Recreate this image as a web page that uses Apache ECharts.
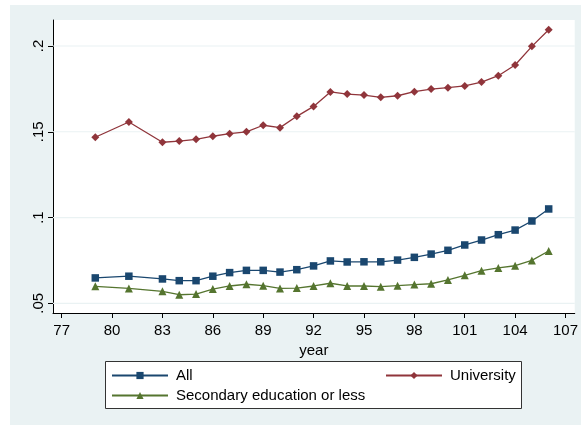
<!DOCTYPE html>
<html>
<head>
<meta charset="utf-8">
<script src="https://cdn.jsdelivr.net/npm/echarts@6/dist/echarts.min.js"></script>
<style>
  html, body { margin: 0; padding: 0; background: #ffffff; }
  #chart { width: 581px; height: 425px; }
</style>
</head>
<body>
<div id="chart"></div>
<script>
// Survey years (ROC calendar) and the three rates per year
const years = [79, 81, 83, 84, 85, 86, 87, 88, 89, 90, 91, 92, 93, 94, 95, 96, 97, 98, 99, 100, 101, 102, 103, 104, 105, 106];
const allRate = [0.0648, 0.0658, 0.0642, 0.0632, 0.0632, 0.0658, 0.0679, 0.0692, 0.0692, 0.0682, 0.0696, 0.0718, 0.0747, 0.0741, 0.0742, 0.0742, 0.0752, 0.0768, 0.0787, 0.0809, 0.0840, 0.0869, 0.0900, 0.0927, 0.0980, 0.1050];
const universityRate = [0.1468, 0.1557, 0.1439, 0.1446, 0.1456, 0.1474, 0.1489, 0.1500, 0.1538, 0.1524, 0.1590, 0.1648, 0.1732, 0.1720, 0.1714, 0.1701, 0.1710, 0.1734, 0.1749, 0.1757, 0.1767, 0.1790, 0.1827, 0.1889, 0.1998, 0.2095];
const secondaryRate = [0.0599, 0.0587, 0.0570, 0.0550, 0.0554, 0.0583, 0.0601, 0.0611, 0.0603, 0.0587, 0.0589, 0.0601, 0.0617, 0.0601, 0.0601, 0.0597, 0.0603, 0.0609, 0.0614, 0.0636, 0.0663, 0.0690, 0.0706, 0.0719, 0.0750, 0.0805];

// Axis tick labels
const xTicks = [77, 80, 83, 86, 89, 92, 95, 98, 101, 104, 107];
const yTicks = [0.05, 0.1, 0.15, 0.2];

const seriesNames = ['All', 'University', 'Secondary education or less'];

const X_MIN = 76.482, X_MAX = 107.55;
const FONT = "'Liberation Sans', Arial, sans-serif";
const BG = '#EAF2F3';
const pairs = vals => years.map((y, i) => [y, vals[i]]);

// Horizontal gridlines at the y ticks, drawn underneath the data lines
const gridSeries = yTicks.map(v => ({
  name: 'grid-' + v, type: 'line', z: 1, silent: true,
  data: [[X_MIN, v], [X_MAX, v]],
  symbol: 'none',
  lineStyle: { color: BG, width: 1.2 },
  tooltip: { show: false }
}));

const chart = echarts.init(document.getElementById('chart'), null, { renderer: 'canvas' });

chart.setOption({
  animation: false,
  backgroundColor: '#ffffff',
  textStyle: { fontFamily: FONT },
  graphic: [
    { type: 'rect', z: -10, silent: true,
      shape: { x: 10, y: 5, width: 571, height: 420 },
      style: { fill: BG } },
    { type: 'rect', z: 0, silent: true,
      shape: { x: 105.5, y: 361.5, width: 416, height: 47 },
      style: { fill: '#ffffff', stroke: '#333333', lineWidth: 1 } }
  ],
  grid: {
    left: 53, right: 6, top: 20, bottom: 112,
    show: true, backgroundColor: '#ffffff', borderWidth: 0
  },
  xAxis: {
    type: 'value',
    min: X_MIN, max: X_MAX,
    name: 'year', nameLocation: 'middle', nameGap: 23,
    nameTextStyle: { color: '#000', fontSize: 15, fontFamily: FONT },
    axisLine: { onZero: false, lineStyle: { color: '#000', width: 1 } },
    axisTick: { length: 5, customValues: xTicks, lineStyle: { color: '#000' } },
    axisLabel: { customValues: xTicks, margin: 10, color: '#000', fontSize: 15, fontFamily: FONT },
    splitLine: { show: false }
  },
  yAxis: {
    type: 'value',
    min: 0.04435, max: 0.21516,
    axisLine: { show: true, lineStyle: { color: '#000', width: 1 } },
    axisTick: { show: true, length: 5, customValues: yTicks, lineStyle: { color: '#000' } },
    axisLabel: {
      customValues: yTicks, rotate: 90, margin: 7, color: '#000', fontSize: 15, fontFamily: FONT,
      formatter: v => String(v).replace(/^0/, '')
    },
    splitLine: { show: false }
  },
  legend: [
    {
      data: ['All', 'Secondary education or less'],
      orient: 'vertical', left: 111, top: 368, padding: 0,
      itemWidth: 56, itemHeight: 9, itemGap: 5,
      textStyle: { color: '#000', fontSize: 15, fontFamily: FONT, lineHeight: 15, padding: [0, 0, 0, 3] }
    },
    {
      data: ['University'],
      orient: 'vertical', left: 385, top: 368, padding: 0,
      itemWidth: 56, itemHeight: 9, itemGap: 5,
      textStyle: { color: '#000', fontSize: 15, fontFamily: FONT, lineHeight: 15, padding: [0, 0, 0, 3] }
    }
  ],
  series: gridSeries.concat([
    {
      name: seriesNames[0], type: 'line', z: 3,
      data: pairs(allRate),
      symbol: 'rect', symbolSize: 7.5,
      lineStyle: { color: '#1A476F', width: 1.3 },
      itemStyle: { color: '#1A476F' }
    },
    {
      name: seriesNames[1], type: 'line', z: 3,
      data: pairs(universityRate),
      symbol: 'diamond', symbolSize: 8,
      lineStyle: { color: '#90353B', width: 1.3 },
      itemStyle: { color: '#90353B' }
    },
    {
      name: seriesNames[2], type: 'line', z: 3,
      data: pairs(secondaryRate),
      symbol: 'triangle', symbolSize: 8,
      lineStyle: { color: '#55752F', width: 1.3 },
      itemStyle: { color: '#55752F' }
    }
  ])
});
</script>
</body>
</html>
